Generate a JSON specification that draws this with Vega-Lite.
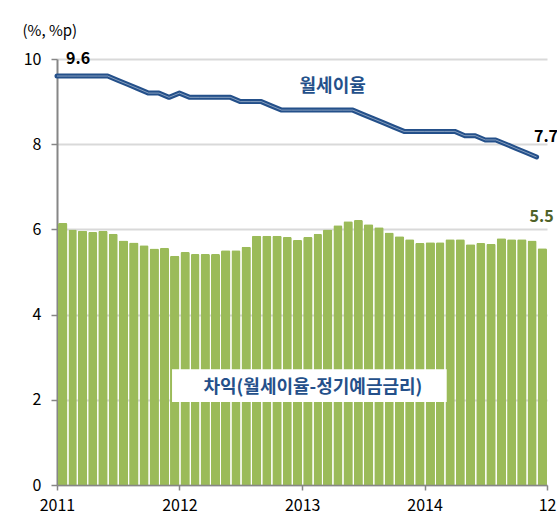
{
  "$schema": "https://vega.github.io/schema/vega-lite/v6.json",
  "width": 490,
  "height": 426,
  "autosize": {"type": "none"},
  "padding": {"left": 57, "top": 59, "right": 10, "bottom": 36},
  "background": "white",
  "config": {"font": "Noto Sans CJK KR", "view": {"stroke": null}},
  "data": {"values": [
    {"month": "2011-01", "rate": 9.6, "spread": 6.15},
    {"month": "2011-02", "rate": 9.6, "spread": 6.0},
    {"month": "2011-03", "rate": 9.6, "spread": 5.97},
    {"month": "2011-04", "rate": 9.6, "spread": 5.94},
    {"month": "2011-05", "rate": 9.6, "spread": 5.97},
    {"month": "2011-06", "rate": 9.6, "spread": 5.9},
    {"month": "2011-07", "rate": 9.5, "spread": 5.74},
    {"month": "2011-08", "rate": 9.4, "spread": 5.69},
    {"month": "2011-09", "rate": 9.3, "spread": 5.63},
    {"month": "2011-10", "rate": 9.2, "spread": 5.55},
    {"month": "2011-11", "rate": 9.2, "spread": 5.57},
    {"month": "2011-12", "rate": 9.1, "spread": 5.38},
    {"month": "2012-01", "rate": 9.2, "spread": 5.47},
    {"month": "2012-02", "rate": 9.1, "spread": 5.42},
    {"month": "2012-03", "rate": 9.1, "spread": 5.42},
    {"month": "2012-04", "rate": 9.1, "spread": 5.42},
    {"month": "2012-05", "rate": 9.1, "spread": 5.51},
    {"month": "2012-06", "rate": 9.1, "spread": 5.51},
    {"month": "2012-07", "rate": 9.0, "spread": 5.59},
    {"month": "2012-08", "rate": 9.0, "spread": 5.85},
    {"month": "2012-09", "rate": 9.0, "spread": 5.85},
    {"month": "2012-10", "rate": 8.9, "spread": 5.85},
    {"month": "2012-11", "rate": 8.8, "spread": 5.82},
    {"month": "2012-12", "rate": 8.8, "spread": 5.75},
    {"month": "2013-01", "rate": 8.8, "spread": 5.82},
    {"month": "2013-02", "rate": 8.8, "spread": 5.9},
    {"month": "2013-03", "rate": 8.8, "spread": 6.0},
    {"month": "2013-04", "rate": 8.8, "spread": 6.1},
    {"month": "2013-05", "rate": 8.8, "spread": 6.19},
    {"month": "2013-06", "rate": 8.8, "spread": 6.22},
    {"month": "2013-07", "rate": 8.7, "spread": 6.12},
    {"month": "2013-08", "rate": 8.6, "spread": 6.05},
    {"month": "2013-09", "rate": 8.5, "spread": 5.93},
    {"month": "2013-10", "rate": 8.4, "spread": 5.84},
    {"month": "2013-11", "rate": 8.3, "spread": 5.77},
    {"month": "2013-12", "rate": 8.3, "spread": 5.68},
    {"month": "2014-01", "rate": 8.3, "spread": 5.7},
    {"month": "2014-02", "rate": 8.3, "spread": 5.7},
    {"month": "2014-03", "rate": 8.3, "spread": 5.77},
    {"month": "2014-04", "rate": 8.3, "spread": 5.77},
    {"month": "2014-05", "rate": 8.2, "spread": 5.65},
    {"month": "2014-06", "rate": 8.2, "spread": 5.68},
    {"month": "2014-07", "rate": 8.1, "spread": 5.66},
    {"month": "2014-08", "rate": 8.1, "spread": 5.79},
    {"month": "2014-09", "rate": 8.0, "spread": 5.77},
    {"month": "2014-10", "rate": 7.9, "spread": 5.77},
    {"month": "2014-11", "rate": 7.8, "spread": 5.74},
    {"month": "2014-12", "rate": 7.7, "spread": 5.56}
  ]},
  "layer": [
    {
      "mark": {"type": "bar", "color": "#9bbb59", "timeUnitBandSize": 0.76, "cornerRadiusTopLeft": 1.5, "cornerRadiusTopRight": 1.5},
      "encoding": {
        "x": {
          "field": "month", "timeUnit": "utcyearmonth", "type": "temporal",
          "scale": {"type": "utc", "domain": [1293840000000, 1420070400000], "nice": false},
          "axis": {
            "title": null, "zindex": 1,
            "values": [1293840000000, 1325376000000, 1356998400000, 1388534400000, 1420070400000],
            "labelExpr": "utcyear(datum.value) == 2015 ? '12' : utcFormat(datum.value, '%Y')",
            "labelFontSize": 16, "labelColor": "#000000", "labelPadding": 7,
            "labelOverlap": false, "labelFlush": false, "labelAlign": "center",
            "tickSize": 5, "tickColor": "#868686", "tickWidth": 1.5,
            "domainColor": "#868686", "domainWidth": 1.5, "grid": false
          }
        },
        "y": {
          "field": "spread", "type": "quantitative",
          "scale": {"domain": [0, 10], "nice": false},
          "axis": {
            "values": [0, 2, 4, 6, 8, 10], "zindex": 0,
            "title": "(%, %p)", "titleAngle": 0, "titleX": -35, "titleY": -29,
            "titleAlign": "left", "titleBaseline": "middle", "titleFontSize": 15,
            "titleFontWeight": "normal", "titleColor": "#000000",
            "labelFontSize": 16, "labelColor": "#000000", "labelPadding": 10,
            "tickSize": 6, "tickColor": "#868686", "tickWidth": 1.5,
            "domainColor": "#868686", "domainWidth": 2,
            "grid": true, "gridColor": "#d9d9d9", "gridWidth": 2
          }
        }
      }
    },
    {
      "mark": {"type": "line", "color": "#24508a", "strokeWidth": 5, "strokeJoin": "round", "strokeCap": "round", "timeUnitBandPosition": 0.5},
      "encoding": {
        "x": {"field": "month", "timeUnit": "utcyearmonth", "type": "temporal"},
        "y": {"field": "rate", "type": "quantitative"}
      }
    },
    {
      "mark": {"type": "line", "color": "#ffffff", "opacity": 0.45, "strokeWidth": 1, "strokeJoin": "round", "timeUnitBandPosition": 0.5},
      "encoding": {
        "x": {"field": "month", "timeUnit": "utcyearmonth", "type": "temporal"},
        "y": {"field": "rate", "type": "quantitative"}
      }
    },
    {
      "data": {"values": [{"d1": "2011-12-10", "d2": "2014-03-08", "y1": 1.95, "y2": 2.72}]},
      "mark": {"type": "rect", "color": "#ffffff"},
      "encoding": {
        "x": {"field": "d1", "type": "temporal"},
        "x2": {"field": "d2"},
        "y": {"field": "y1", "type": "quantitative"},
        "y2": {"field": "y2"}
      }
    },
    {
      "data": {"values": [
        {"date": "2011-03-05", "y": 10.0, "label": "9.6", "c": "black"},
        {"date": "2014-12-29", "y": 8.16, "label": "7.7", "c": "black"},
        {"date": "2014-12-16", "y": 6.3, "label": "5.5", "c": "green"}
      ]},
      "mark": {"type": "text", "fontSize": 16, "fontWeight": "bold", "align": "center", "baseline": "middle"},
      "encoding": {
        "x": {"field": "date", "type": "temporal"},
        "y": {"field": "y", "type": "quantitative"},
        "text": {"field": "label"},
        "color": {"field": "c", "type": "nominal", "scale": {"domain": ["black", "green"], "range": ["#000000", "#4f6228"]}, "legend": null}
      }
    },
    {
      "data": {"values": [
        {"date": "2013-04-02", "y": 9.34, "label": "월세이율"},
        {"date": "2013-02-02", "y": 2.28, "label": "차익(월세이율-정기예금금리)"}
      ]},
      "mark": {"type": "text", "fontSize": 18, "fontWeight": "bold", "align": "center", "baseline": "middle", "color": "#24508a"},
      "encoding": {
        "x": {"field": "date", "type": "temporal"},
        "y": {"field": "y", "type": "quantitative"},
        "text": {"field": "label"}
      }
    }
  ]
}
